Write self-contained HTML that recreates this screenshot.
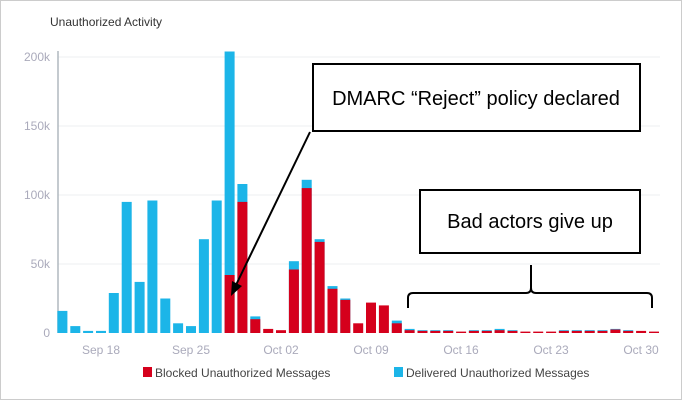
<!DOCTYPE html>
<html><head><style>
body{margin:0;background:#fff;}
svg{display:block;font-family:"Liberation Sans",sans-serif;}
.b{fill:#1cb5e8}.r{fill:#d5001c}
</style></head><body>
<svg width="682" height="400" xmlns="http://www.w3.org/2000/svg">
<rect x="0.5" y="0.5" width="681" height="399" fill="#fff" stroke="#ccc"/>
<text x="50" y="26" font-size="12" fill="#333">Unauthorized Activity</text>
<g stroke="#eceff1" stroke-width="1">
<line x1="58" y1="57" x2="660" y2="57"/><line x1="58" y1="126" x2="660" y2="126"/>
<line x1="58" y1="195" x2="660" y2="195"/><line x1="58" y1="264" x2="660" y2="264"/>
</g>
<line x1="58" y1="51" x2="58" y2="333" stroke="#b0b8bf" stroke-width="1.5"/>
<g font-size="12" fill="#aab" text-anchor="end">
<text x="50" y="61">200k</text><text x="50" y="130">150k</text><text x="50" y="199">100k</text><text x="50" y="268">50k</text><text x="50" y="337">0</text>
</g>
<g font-size="12" fill="#aab" text-anchor="middle">
<text x="101" y="354">Sep 18</text><text x="191" y="354">Sep 25</text><text x="281" y="354">Oct 02</text><text x="371" y="354">Oct 09</text><text x="461" y="354">Oct 16</text><text x="551" y="354">Oct 23</text><text x="641" y="354">Oct 30</text>
</g>
<g>
<rect class="b" x="57.4" y="310.9" width="10" height="22.1"/>
<rect class="b" x="70.3" y="326.1" width="10" height="6.9"/>
<rect class="b" x="83.1" y="330.9" width="10" height="2.1"/>
<rect class="b" x="96.0" y="330.9" width="10" height="2.1"/>
<rect class="b" x="108.8" y="293" width="10" height="40"/>
<rect class="b" x="121.7" y="201.9" width="10" height="131.1"/>
<rect class="b" x="134.6" y="281.9" width="10" height="51.1"/>
<rect class="b" x="147.4" y="200.5" width="10" height="132.5"/>
<rect class="b" x="160.3" y="298.5" width="10" height="34.5"/>
<rect class="b" x="173.1" y="323.3" width="10" height="9.7"/>
<rect class="b" x="186.0" y="326.1" width="10" height="6.9"/>
<rect class="b" x="198.9" y="239.2" width="10" height="93.8"/>
<rect class="b" x="211.7" y="200.5" width="10" height="132.5"/>
<rect class="b" x="224.6" y="51.5" width="10" height="281.5"/><rect class="r" x="224.6" y="275" width="10" height="58"/>
<rect class="b" x="237.4" y="184" width="10" height="149"/><rect class="r" x="237.4" y="201.9" width="10" height="131.1"/>
<rect class="b" x="250.3" y="316.4" width="10" height="16.6"/><rect class="r" x="250.3" y="319.2" width="10" height="13.8"/>
<rect class="r" x="263.2" y="328.9" width="10" height="4.1"/>
<rect class="r" x="276.0" y="330.2" width="10" height="2.8"/>
<rect class="b" x="288.9" y="261.2" width="10" height="71.8"/><rect class="r" x="288.9" y="269.5" width="10" height="63.5"/>
<rect class="b" x="301.7" y="179.8" width="10" height="153.2"/><rect class="r" x="301.7" y="188.1" width="10" height="144.9"/>
<rect class="b" x="314.6" y="239.2" width="10" height="93.8"/><rect class="r" x="314.6" y="241.9" width="10" height="91.1"/>
<rect class="b" x="327.5" y="286.1" width="10" height="46.9"/><rect class="r" x="327.5" y="288.8" width="10" height="44.2"/>
<rect class="b" x="340.3" y="298.5" width="10" height="34.5"/><rect class="r" x="340.3" y="299.9" width="10" height="33.1"/>
<rect class="r" x="353.2" y="323.3" width="10" height="9.7"/>
<rect class="r" x="366.0" y="302.6" width="10" height="30.4"/>
<rect class="r" x="378.9" y="305.4" width="10" height="27.6"/>
<rect class="b" x="391.8" y="320.6" width="10" height="12.4"/><rect class="r" x="391.8" y="323.3" width="10" height="9.7"/>
<rect class="b" x="404.6" y="328.9" width="10" height="4.1"/><rect class="r" x="404.6" y="330.2" width="10" height="2.8"/>
<rect class="b" x="417.5" y="330.2" width="10" height="2.8"/><rect class="r" x="417.5" y="330.9" width="10" height="2.1"/>
<rect class="b" x="430.3" y="330.2" width="10" height="2.8"/><rect class="r" x="430.3" y="330.9" width="10" height="2.1"/>
<rect class="b" x="443.2" y="330.2" width="10" height="2.8"/><rect class="r" x="443.2" y="330.9" width="10" height="2.1"/>
<rect class="r" x="456.1" y="331.6" width="10" height="1.4"/>
<rect class="b" x="468.9" y="330.2" width="10" height="2.8"/><rect class="r" x="468.9" y="330.9" width="10" height="2.1"/>
<rect class="b" x="481.8" y="330.2" width="10" height="2.8"/><rect class="r" x="481.8" y="330.9" width="10" height="2.1"/>
<rect class="b" x="494.6" y="328.9" width="10" height="4.1"/><rect class="r" x="494.6" y="330.2" width="10" height="2.8"/>
<rect class="b" x="507.5" y="330.2" width="10" height="2.8"/><rect class="r" x="507.5" y="330.9" width="10" height="2.1"/>
<rect class="r" x="520.4" y="331.6" width="10" height="1.4"/>
<rect class="r" x="533.2" y="331.6" width="10" height="1.4"/>
<rect class="r" x="546.1" y="331.6" width="10" height="1.4"/>
<rect class="b" x="558.9" y="330.2" width="10" height="2.8"/><rect class="r" x="558.9" y="330.9" width="10" height="2.1"/>
<rect class="b" x="571.8" y="330.2" width="10" height="2.8"/><rect class="r" x="571.8" y="330.9" width="10" height="2.1"/>
<rect class="b" x="584.7" y="330.2" width="10" height="2.8"/><rect class="r" x="584.7" y="330.9" width="10" height="2.1"/>
<rect class="b" x="597.5" y="330.2" width="10" height="2.8"/><rect class="r" x="597.5" y="330.9" width="10" height="2.1"/>
<rect class="b" x="610.4" y="328.9" width="10" height="4.1"/><rect class="r" x="610.4" y="329.5" width="10" height="3.5"/>
<rect class="b" x="623.2" y="330.2" width="10" height="2.8"/><rect class="r" x="623.2" y="330.9" width="10" height="2.1"/>
<rect class="r" x="636.1" y="330.9" width="10" height="2.1"/>
<rect class="r" x="649.0" y="331.6" width="10" height="1.4"/>
</g>
<rect x="143" y="367" width="9" height="10" fill="#d5001c"/>
<text x="155" y="377" font-size="12" fill="#444">Blocked Unauthorized Messages</text>
<rect x="394" y="367" width="9" height="10" fill="#1cb5e8"/>
<text x="406" y="377" font-size="12" fill="#444">Delivered Unauthorized Messages</text>
<rect x="313" y="64" width="327" height="67" fill="#fff" stroke="#000" stroke-width="2"/>
<text x="476" y="105" font-size="20" text-anchor="middle" fill="#000">DMARC “Reject” policy declared</text>
<rect x="420" y="190" width="220" height="63" fill="#fff" stroke="#000" stroke-width="2"/>
<text x="530" y="228" font-size="20" text-anchor="middle" fill="#000">Bad actors give up</text>
<line x1="310" y1="132" x2="236" y2="285" stroke="#000" stroke-width="2"/>
<polygon points="231,296 232,281 242,286" fill="#000"/>
<path d="M408,308 L408,298 Q408,293 413,293 L526,293 Q531,293 531,288 L531,265 M531,288 Q531,293 536,293 L647,293 Q652,293 652,298 L652,308" fill="none" stroke="#000" stroke-width="2"/>
</svg>
</body></html>
